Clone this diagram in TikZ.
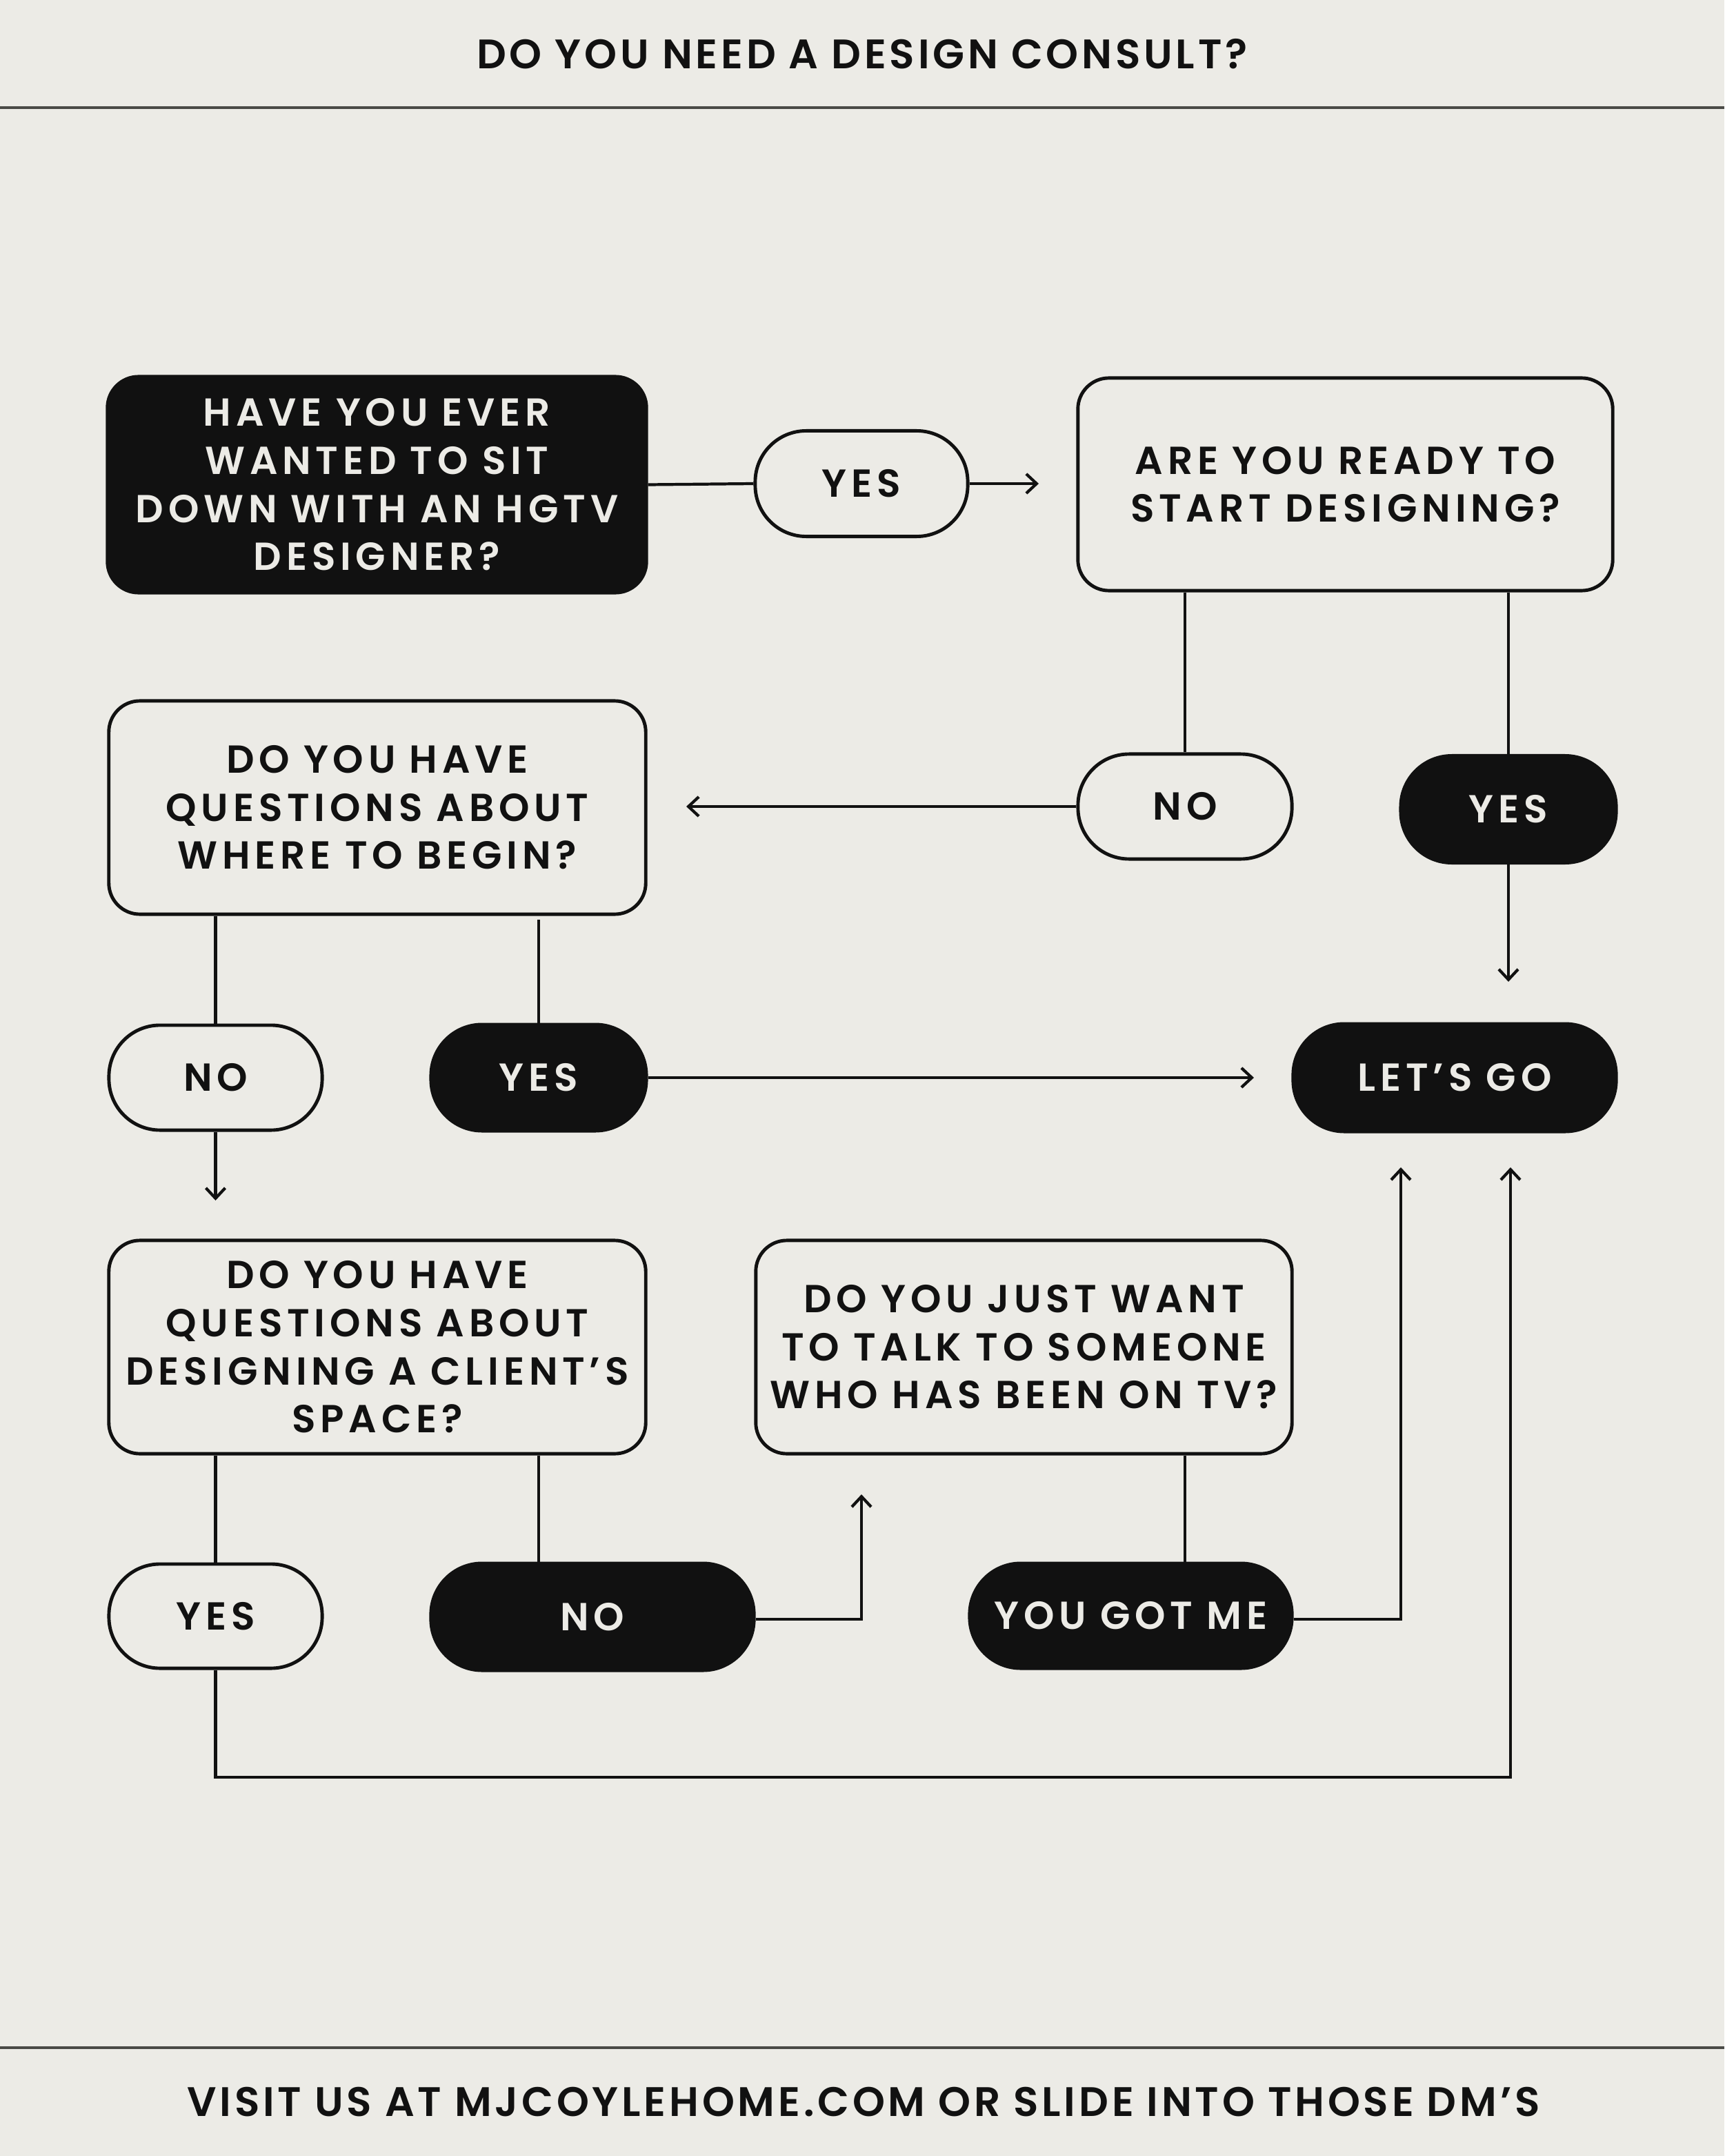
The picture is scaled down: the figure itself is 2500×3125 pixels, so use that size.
\documentclass[tikz,border=0pt]{standalone}
\usepackage{fontspec}
\setmainfont{Poppins SemiBold}[LetterSpace=12]
\newfontfamily\headfont{Poppins SemiBold}[LetterSpace=8]
\usetikzlibrary{arrows.meta}
\definecolor{paper}{HTML}{ECEBE6}
\definecolor{ink}{HTML}{111111}
\definecolor{rule}{HTML}{4A4A46}
\begin{document}
\begin{tikzpicture}[x=0.01cm,y=-0.01cm,
  qbox/.style={draw=ink,line width=1.4pt,rounded corners=0.45cm,fill=paper,text=ink,align=center,inner sep=0pt,
    font=\fontsize{16.1}{19.8}\selectfont},
  qdark/.style={qbox,fill=ink,text=paper},
  pill/.style={draw=ink,line width=1.4pt,rounded corners=0.74cm,fill=paper,text=ink,align=center,inner sep=0pt,
    font=\fontsize{16.1}{19.8}\selectfont},
  pilldark/.style={pill,fill=ink,text=paper},
  conn/.style={draw=ink,line width=1.2pt},
  arr/.style={conn,-{Straight Barb[length=0.15cm,width=0.28cm,line width=1.2pt]}},
  heading/.style={text=ink,font=\headfont\fontsize{17}{20}\selectfont}
]
\useasboundingbox (0,0) rectangle (2500,3125);
\fill[paper] (0,0) rectangle (2500,3125);

% header / footer
\node[heading] (title) at (1250,78) {DO YOU NEED A DESIGN CONSULT?};
\coordinate (tl) at (0,156); \coordinate (tr) at (2500,156);
\draw[rule,line width=1pt] (tl) -- (tr);
\coordinate (bl) at (0,2968); \coordinate (br) at (2500,2968);
\draw[rule,line width=1pt] (bl) -- (br);
\node[heading] (foot) at (1252,3047) {VISIT US AT MJCOYLEHOME.COM OR SLIDE INTO THOSE DM’S};

% nodes
\node[qdark,minimum width=7.81cm,minimum height=3.13cm] (b1) at (546.5,702.5)
  {HAVE YOU EVER\\WANTED TO SIT\\DOWN WITH AN HGTV\\DESIGNER?};
\node[pill,minimum width=3.08cm,minimum height=1.53cm] (y1) at (1249,701) {YES};
\node[qbox,minimum width=7.75cm,minimum height=3.08cm] (b2) at (1950.5,702)
  {ARE YOU READY TO\\START DESIGNING?};
\node[pill,minimum width=3.10cm,minimum height=1.52cm] (n2) at (1718,1169) {NO};
\node[pilldark,minimum width=3.12cm,minimum height=1.55cm] (y2) at (2187,1173) {YES};
\node[qbox,minimum width=7.78cm,minimum height=3.09cm] (b3) at (547,1170.5)
  {DO YOU HAVE\\QUESTIONS ABOUT\\WHERE TO BEGIN?};
\node[pill,minimum width=3.09cm,minimum height=1.52cm] (n3) at (312.5,1562) {NO};
\node[pilldark,minimum width=3.12cm,minimum height=1.54cm] (y3) at (781,1562) {YES};
\node[pilldark,minimum width=4.68cm,minimum height=1.56cm] (go) at (2109,1562) {LET’S GO};
\node[qbox,minimum width=7.78cm,minimum height=3.09cm] (b4) at (547,1952.5)
  {DO YOU HAVE\\QUESTIONS ABOUT\\DESIGNING A CLIENT’S\\SPACE?};
\node[pill,minimum width=3.09cm,minimum height=1.51cm] (y4) at (312.5,2342.5) {YES};
\node[pilldark,minimum width=4.68cm,minimum height=1.55cm] (n4) at (859,2343.5) {NO};
\node[qbox,minimum width=7.77cm,minimum height=3.09cm] (b5) at (1484.5,1952.5)
  {DO YOU JUST WANT\\TO TALK TO SOMEONE\\WHO HAS BEEN ON TV?};
\node[pilldark,minimum width=4.67cm,minimum height=1.52cm] (gm) at (1639.5,2342) {YOU GOT ME};

% free ends
\coordinate (a1) at (1506,701);
\coordinate (a2) at (2187,1423);
\coordinate (a3) at (995,1169);
\coordinate (a4) at (1818,1562);
\coordinate (a5) at (312.5,1740);
\coordinate (c1) at (312.5,2576);
\coordinate (c2) at (2190,2576);
\coordinate (a6) at (2190,1692);
\coordinate (c3) at (1249,2347);
\coordinate (a7) at (1249,2166);
\coordinate (c4) at (2031,2347);
\coordinate (a8) at (2031,1692);
\coordinate (s3) at (781,1333);

% connectors
\draw[conn] (b1.east) -- (y1.west);
\draw[arr] (y1.east) -- (a1);
\draw[conn] (n2.north |- b2.south) -- (n2.north);
\draw[conn] (y2.north |- b2.south) -- (y2.north);
\draw[arr] (y2.south) -- (a2);
\draw[arr] (n2.west) -- (a3);
\draw[conn] (n3.north |- b3.south) -- (n3.north);
\draw[conn] (s3) -- (y3.north);
\draw[arr] (y3.east) -- (a4);
\draw[arr] (n3.south) -- (a5);
\draw[conn] (y4.north |- b4.south) -- (y4.north);
\draw[conn] (y3.north |- b4.south) -- (y3.north |- n4.north);
\draw[arr] (y4.south) -- (c1) -- (c2) -- (a6);
\draw[arr] (n4.east |- c3) -- (c3) -- (a7);
\draw[conn] (n2.north |- b5.south) -- (n2.north |- gm.north);
\draw[arr] (gm.east |- c4) -- (c4) -- (a8);
\end{tikzpicture}
\end{document}
